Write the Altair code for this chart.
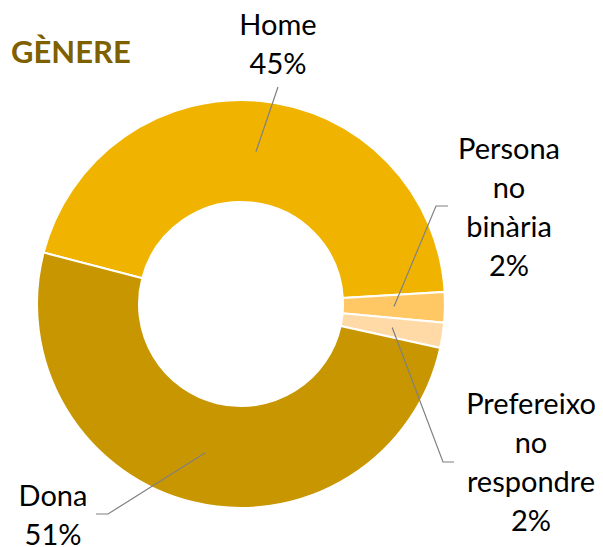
import math
import altair as alt
import pandas as pd

# ---- data ----
categories = ["Home", "Persona no binària", "Prefereixo no respondre", "Dona"]
values = [45.0, 2.4, 2.0, 50.6]
pct_labels = ["45%", "2%", "2%", "51%"]
label_lines = [
    ["Home", "45%"],
    ["Persona", "no", "binària", "2%"],
    ["Prefereixo", "no", "respondre", "2%"],
    ["Dona", "51%"],
]
colors = ["#F0B400", "#FFC864", "#FFDAA6", "#C89600"]
title_text = "GÈNERE"

# ---- layout (page pixel coordinates) ----
W, H = 587, 539
CX, CY = 241, 304
R_OUT, R_IN = 204, 102
START_DEG = -75.4
label_anchor = [(278, 35), (509, 159), (531, 414), (53, 506)]
elbows = [(278, 87), (436, 206), (443, 462), (108, 514)]
ends = [(278, 87), (448, 206), (454, 462), (96, 514)]

start = math.radians(START_DEG)
slices = pd.DataFrame({"cat": categories, "value": values, "idx": range(len(values))})

# leader start points: mid-angle of each slice at mid-ring radius
total = sum(values)
rows = []
cum = 0.0
r_mid = (R_OUT + R_IN) / 2
for i, v in enumerate(values):
    mid = start + 2 * math.pi * (cum + v / 2) / total
    cum += v
    sx = CX + r_mid * math.sin(mid)
    sy = CY - r_mid * math.cos(mid)
    rows.append({"cat": categories[i], "seq": 0, "x": sx, "y": sy})
    rows.append({"cat": categories[i], "seq": 1, "x": elbows[i][0], "y": elbows[i][1]})
    rows.append({"cat": categories[i], "seq": 2, "x": ends[i][0], "y": ends[i][1]})
leaders = pd.DataFrame(rows)

texts = pd.DataFrame({
    "cat": categories,
    "txt": ["\n".join(l) for l in label_lines],
    "x": [p[0] for p in label_anchor],
    "y": [p[1] for p in label_anchor],
})
title_df = pd.DataFrame({"txt": [title_text], "x": [11], "y": [63]})

xs = alt.Scale(domain=[8, 8 + W], range=[0, W])
ys = alt.Scale(domain=[8, 8 + H], range=[0, H])

arcs = alt.Chart(slices).mark_arc(
    outerRadius=R_OUT, innerRadius=R_IN, stroke="white", strokeWidth=2
).encode(
    theta=alt.Theta("value:Q", stack=True,
                    scale=alt.Scale(range=[start, start + 2 * math.pi])),
    order=alt.Order("idx:Q"),
    color=alt.Color("cat:N", scale=alt.Scale(domain=categories, range=colors), legend=None),
    x=alt.value(CX - 8),
    y=alt.value(CY - 8),
)

lines = alt.Chart(leaders).mark_line(color="#808080", strokeWidth=1.2).encode(
    x=alt.X("x:Q", scale=xs, axis=None),
    y=alt.Y("y:Q", scale=ys, axis=None),
    detail="cat:N",
    order="seq:Q",
)

labels = alt.Chart(texts).mark_text(
    font="Lato", fontSize=29, lineBreak="\n", lineHeight=39,
    align="center", baseline="alphabetic", color="#000000"
).encode(
    x=alt.X("x:Q", scale=xs, axis=None),
    y=alt.Y("y:Q", scale=ys, axis=None),
    text="txt:N",
)

title = alt.Chart(title_df).mark_text(
    font="Lato", fontSize=31, fontWeight="bold", align="left",
    baseline="alphabetic", color="#7F6000"
).encode(
    x=alt.X("x:Q", scale=xs, axis=None),
    y=alt.Y("y:Q", scale=ys, axis=None),
    text="txt:N",
)

chart = alt.layer(arcs, lines, labels, title).properties(
    width=W, height=H, padding=0, autosize=alt.AutoSizeParams(type="none"),
    background="white",
).configure_view(stroke=None)

chart.save("out.html", embed_options={"renderer": "svg", "actions": False})
